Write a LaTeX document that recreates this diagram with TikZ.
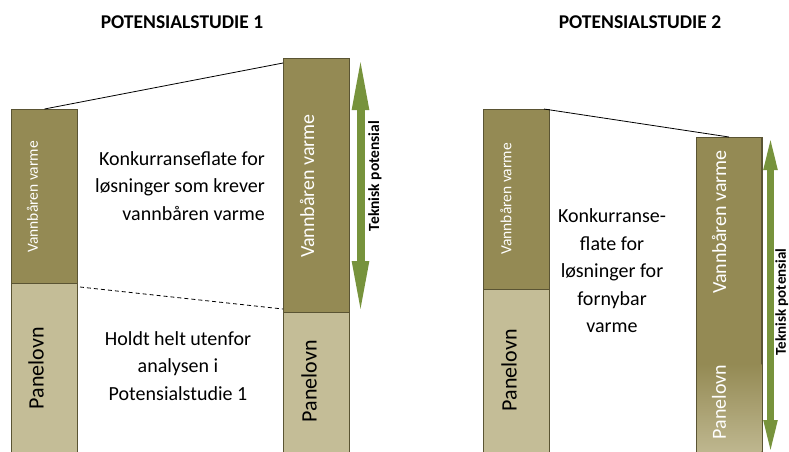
\documentclass[tikz,border=0pt]{standalone}
\usepackage{fontspec}
\setmainfont{Carlito}
\usetikzlibrary{arrows.meta,positioning,calc}
\definecolor{varmefill}{HTML}{948A54}
\definecolor{panelfill}{HTML}{C4BD97}
\definecolor{barline}{HTML}{5A5433}
\definecolor{potgreen}{HTML}{77933C}
\tikzset{
  varmebox/.style={draw=barline, line width=1pt, fill=varmefill, anchor=north west,
    minimum width=66pt, inner sep=0pt},
  panelbox/.style={varmebox, fill=panelfill},
  fadearea/.style={top color=varmefill, bottom color=panelfill!90!varmefill},
  bartext/.style={rotate=90, inner sep=0pt, font=\fontsize{20}{24}\selectfont},
  smalltext/.style={bartext, font=\fontsize{15.5}{18}\selectfont},
  bodytext/.style={inner sep=0pt, font=\fontsize{20}{27.5}\selectfont},
  titletext/.style={inner sep=0pt, font=\fontsize{19.5}{23}\selectfont\bfseries},
  potlabel/.style={rotate=90, inner sep=0pt, font=\fontsize{15.5}{18}\selectfont\bfseries},
  link/.style={draw=black, line width=0.8pt},
  bigpot/.style={draw=potgreen, line width=8pt,
    {Triangle[length=56pt, width=15pt]}-{Triangle[length=56pt, width=15pt]}},
  smallpot/.style={draw=potgreen, line width=7pt,
    {Triangle[length=37pt, width=12pt]}-{Triangle[length=37pt, width=12pt]}}
}
\begin{document}
\begin{tikzpicture}[x=1pt, y=-1pt]
    \useasboundingbox (0,0) rectangle (789,451);
    \clip (0,0) rectangle (789,451);
    \node[titletext] (t1) at (182,22) {POTENSIALSTUDIE 1};
    \node[titletext] (t2) at (640,22) {POTENSIALSTUDIE 2};
    % potensialstudie 1
    \node[varmebox, minimum height=174pt] (v1) at (11,109) {};
    \node[panelbox, minimum height=175pt] (p1) at (11,283) {};
    \node[varmebox, minimum height=254pt] (v2) at (283,58) {};
    \node[panelbox, minimum height=145pt] (p2) at (283,312) {};
    \node[smalltext, text=white] (v1t) at (32.5,197) {Vannbåren varme};
    \node[bartext, font=\fontsize{22}{26}\selectfont] (p1t) at (36,368) {Panelovn};
    \node[bartext, text=white] (v2t) at (307,186) {Vannbåren varme};
    \node[bartext, font=\fontsize{22}{26}\selectfont] (p2t) at (309,381) {Panelovn};
    \draw[link] (v1.north) -- ($(v2.north west)+(0,5)$);
    \draw[link, dash pattern=on 4pt off 3pt] ($(p1.north east)+(2,4)$) -- ($(v2.south west)+(0,-4)$);
    \node[bodytext, align=right, anchor=east] (konk1) at (265,186)
      {Konkurranseflate for\\løsninger som krever\\vannbåren varme};
    \node[bodytext, align=center] (holdt1) at (178,366)
      {Holdt helt utenfor\\analysen i\\Potensialstudie 1};
    \coordinate (a1top) at (360.5,54);
    \coordinate (a1bot) at (360.5,317);
    \draw[bigpot] (a1top) -- (a1bot);
    \node[potlabel] (pot1) at (375,176) {Teknisk potensial};
    % potensialstudie 2
    \node[varmebox, minimum height=180pt] (v3) at (483,109) {};
    \node[panelbox, minimum height=170pt] (p3) at (483,289) {};
    \node[varmebox, minimum width=65pt, minimum height=316pt] (v4) at (696,137) {};
    \shade[fadearea] ($(v4.south west)+(0.5,-90)$) rectangle ($(v4.south east)+(-0.5,0)$);
    \draw[barline, line width=1pt] (v4.north west) rectangle (v4.south east);
    \node[smalltext, text=white] (v3t) at (506,199) {Vannbåren varme};
    \node[bartext, font=\fontsize{22}{26}\selectfont] (p3t) at (509,370) {Panelovn};
    \node[bartext, text=white] (v4t) at (719,222) {Vannbåren varme};
    \node[bartext, text=white] (p4t) at (719,402) {Panelovn};
    \draw[link] ($(v3.north east)+(-6,0)$) -- (v4.north);
    \node[bodytext, align=center] (konk2) at (612,271)
      {Konkurranse-\\flate for\\løsninger for\\fornybar\\varme};
    \coordinate (a2top) at (770.5,133);
    \coordinate (a2bot) at (770.5,457);
    \draw[smallpot] (a2top) -- (a2bot);
    \node[potlabel, anchor=south, font=\fontsize{15}{18}\selectfont\bfseries] (pot2) at (788.5,302) {Teknisk potensial};
\end{tikzpicture}
\end{document}
